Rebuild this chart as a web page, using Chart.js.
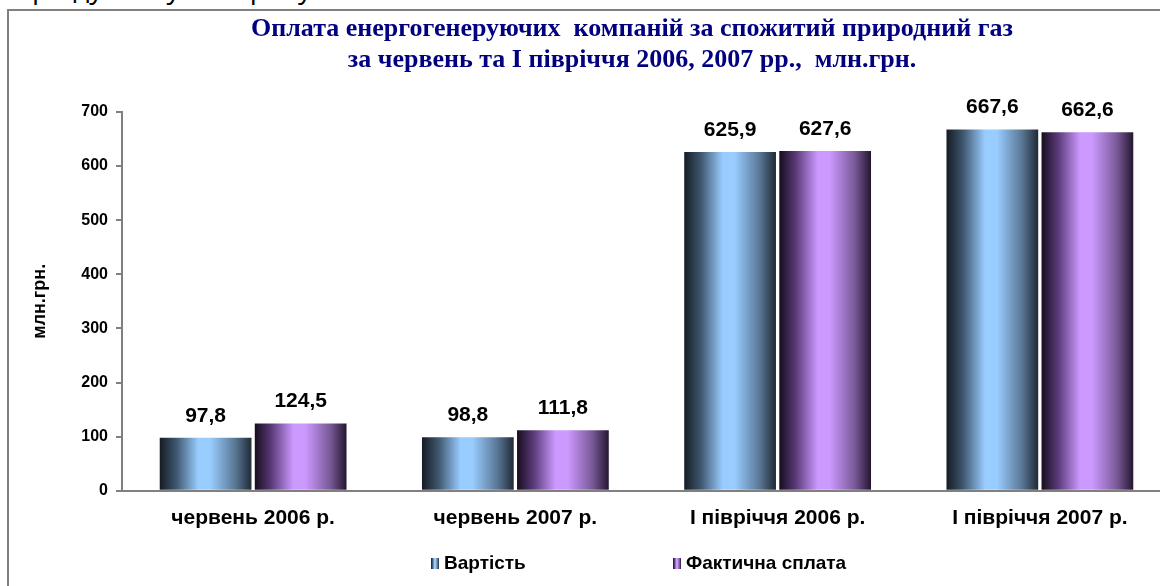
<!DOCTYPE html>
<html>
<head>
<meta charset="utf-8">
<script src="https://cdn.jsdelivr.net/npm/chart.js@4/dist/chart.umd.min.js"></script>
<style>
  html, body { margin: 0; padding: 0; background: #fff; width: 1160px; height: 586px; overflow: hidden; }
  #topline { position: absolute; left: -1px; top: -32px; font: 28px "Open Sans", sans-serif; line-height: 38px; color: #000; white-space: nowrap; }
  #frame { position: absolute; left: 7px; top: 9px; width: 1200px; height: 640px; border-left: 2px solid #808080; border-top: 2px solid #808080; }
  #chart { position: absolute; left: 0; top: 0; }
</style>
</head>
<body>
<div id="topline">періоду минулого року.</div>
<div id="frame"></div>
<canvas id="chart" width="1239" height="586"></canvas>
<script>
// Категорії та значення, млн.грн.
const categories = ["червень 2006 р.", "червень 2007 р.", "І півріччя 2006 р.", "І півріччя 2007 р."];
const vartist = [97.8, 98.8, 625.9, 667.6];
const splata = [124.5, 111.8, 627.6, 662.6];
const yTicks = [0, 100, 200, 300, 400, 500, 600, 700];

const blueStops = ['#151c24', '#3e566e', '#99ccff', '#99ccff', '#5a7896', '#1f2a36'];
const purpleStops = ['#170d1f', '#5a3a78', '#cc99ff', '#cc99ff', '#7a5a99', '#241630'];
const stopPos = [0, 0.18, 0.42, 0.55, 0.82, 1];

function gradient(ctx, left, width, stops) {
    const g = ctx.createLinearGradient(left, 0, left + width, 0);
    stops.forEach((c, i) => g.addColorStop(stopPos[i], c));
    return g;
}

// Градієнт для кожного стовпчика
const barGradients = {
    id: 'barGradients',
    beforeDatasetsDraw(chart) {
        const ctx = chart.ctx;
        chart.data.datasets.forEach((ds, i) => {
            chart.getDatasetMeta(i).data.forEach(bar => {
                const left = bar.x - bar.width / 2;
                bar.options.backgroundColor = gradient(ctx, left, bar.width, ds.stops);
            });
        });
    }
};

// Підписи значень над стовпчиками
const valueLabels = {
    id: 'valueLabels',
    afterDatasetsDraw(chart) {
        const ctx = chart.ctx;
        ctx.save();
        ctx.font = 'bold 21px "Liberation Sans", Arial, sans-serif';
        ctx.fillStyle = '#000';
        ctx.textAlign = 'center';
        ctx.textBaseline = 'middle';
        chart.data.datasets.forEach((ds, i) => {
            chart.getDatasetMeta(i).data.forEach((bar, j) => {
                ctx.fillText(ds.data[j].toFixed(1).replace('.', ','), bar.x, bar.y - 22);
            });
        });
        ctx.restore();
    }
};

// Легенда внизу
const bottomLegend = {
    id: 'bottomLegend',
    afterDraw(chart) {
        const ctx = chart.ctx;
        const starts = [431, 673];
        const cy = 563;
        ctx.save();
        ctx.font = 'bold 19px "Liberation Sans", Arial, sans-serif';
        ctx.textBaseline = 'middle';
        chart.data.datasets.forEach((ds, i) => {
            const x = starts[i];
            ctx.fillStyle = gradient(ctx, x, 8, ds.stops);
            ctx.fillRect(x, cy - 5, 8, 11);
            ctx.fillStyle = '#000';
            ctx.fillText(ds.label, x + 13, cy + 1);
        });
        ctx.restore();
    }
};

const ctx = document.getElementById('chart').getContext('2d');
new Chart(ctx, {
    type: 'bar',
    data: {
        labels: categories,
        datasets: [
            { label: 'Вартість', data: vartist, stops: blueStops, backgroundColor: () => '#99ccff' },
            { label: 'Фактична сплата', data: splata, stops: purpleStops, backgroundColor: () => '#cc99ff' }
        ]
    },
    options: {
        responsive: false,
        animation: false,
        categoryPercentage: 0.725,
        barPercentage: 0.965,
        layout: { padding: { top: 0, left: 25, right: 0, bottom: 40 } },
        plugins: {
            legend: { display: false },
            tooltip: { enabled: false },
            title: {
                display: true,
                text: ['Оплата енергогенеруючих  компаній за спожитий природний газ', 'за червень та І півріччя 2006, 2007 рр.,  млн.грн.'],
                color: '#000080',
                font: { family: '"Liberation Serif", "Times New Roman", serif', size: 26, weight: 'bold', lineHeight: 1.19 },
                padding: { top: 14, bottom: 36 }
            }
        },
        scales: {
            x: {
                grid: { display: false, drawTicks: false },
                border: { color: '#808080', width: 2 },
                ticks: {
                    padding: 15,
                    color: '#000',
                    font: { family: '"Liberation Sans", Arial, sans-serif', size: 21, weight: 'bold' }
                }
            },
            y: {
                min: 0,
                max: 700,
                afterFit(scale) { scale.width = 97; },
                afterBuildTicks(scale) { scale.ticks = yTicks.map(v => ({ value: v })); },
                grid: { drawOnChartArea: false, drawTicks: true, tickLength: 6, color: '#808080', lineWidth: 2 },
                border: { color: '#808080', width: 2 },
                ticks: {
                    padding: 8,
                    color: '#000',
                    font: { family: '"Liberation Sans", Arial, sans-serif', size: 16, weight: 'bold' }
                },
                title: {
                    display: true,
                    text: 'млн.грн.',
                    color: '#000',
                    font: { family: '"Liberation Sans", Arial, sans-serif', size: 18, weight: 'bold' }
                }
            },
            // порожня права вісь: лише резервує місце праворуч
            spacer: {
                type: 'linear',
                position: 'right',
                grid: { display: false },
                border: { display: false },
                ticks: { display: false },
                afterFit(scale) { scale.width = 68; }
            }
        }
    },
    plugins: [barGradients, valueLabels, bottomLegend]
});
</script>
</body>
</html>
